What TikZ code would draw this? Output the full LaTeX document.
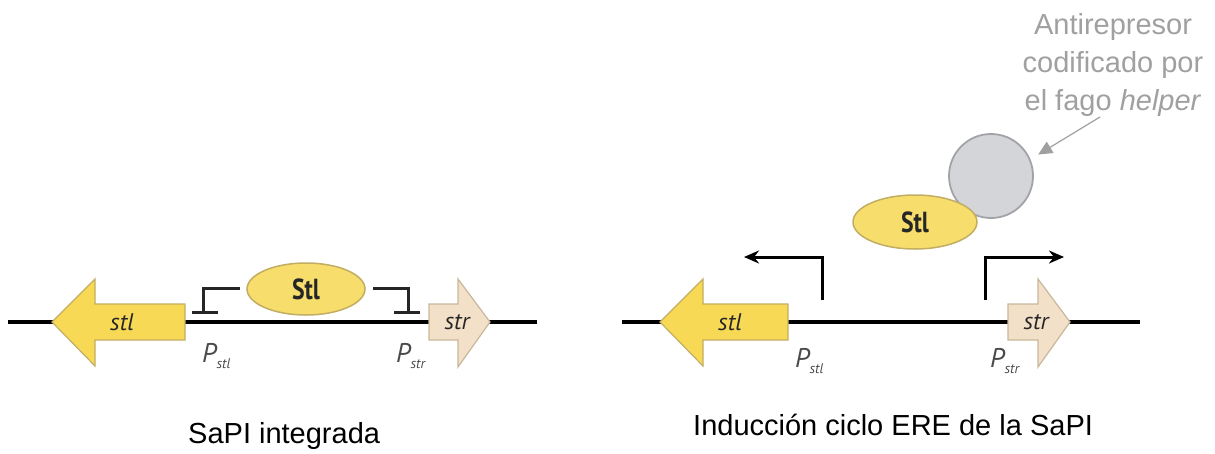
\documentclass[tikz,border=0pt]{standalone}
\usepackage{fontspec}
\setmainfont{Liberation Sans}
\newfontfamily\genefont{PT Sans}
\usetikzlibrary{arrows.meta,shapes.geometric}
\definecolor{yelfill}{HTML}{F7D955}
\definecolor{yeldraw}{HTML}{C2AE62}
\definecolor{ellfill}{HTML}{F6DD6C}
\definecolor{strfill}{HTML}{F3E0C8}
\definecolor{strdraw}{HTML}{C9B79B}
\definecolor{circfill}{HTML}{D4D5D9}
\definecolor{circdraw}{HTML}{A2A3A7}
\definecolor{annot}{HTML}{A0A0A0}
\definecolor{plab}{HTML}{4A4A4A}
\tikzset{
  x=1pt, y=-1pt,
  dna/.style={line width=4.5pt, black},
  genestl/.style={fill=yelfill, draw=yeldraw, line width=1.2pt},
  genestr/.style={fill=strfill, draw=strdraw, line width=1.2pt},
  prot/.style={ellipse, fill=ellfill, draw=yeldraw, line width=1.5pt, inner sep=0pt, font=\genefont\bfseries\fontsize{29}{29}\selectfont, text=black!85},
  protA/.style={prot, minimum width=118pt, minimum height=52pt},
  protB/.style={prot, minimum width=124pt, minimum height=54pt},
  genelab/.style={font=\genefont\itshape\fontsize{24}{24}\selectfont, text=black!85},
  plabel/.style={font=\genefont\itshape\fontsize{27}{27}\selectfont, text=plab, inner sep=0pt, anchor=base west},
  repr/.style={line width=3pt, black!85},
  prom/.style={line width=3pt, black, -{Stealth[length=15pt,width=13pt]}},
  caption/.style={font=\fontsize{29}{29}\selectfont, text=black, inner sep=0pt, anchor=base west},
  antitext/.style={font=\fontsize{29}{38}\selectfont, text=annot, align=center, inner sep=0pt, anchor=north},
}
\newcommand{\plsub}[1]{\raisebox{-6pt}{\fontsize{14}{14}\selectfont #1}}
\newcommand{\sqz}[1]{\scalebox{0.82}[1]{#1}}
\begin{document}
\begin{tikzpicture}
\useasboundingbox (0,0) rectangle (1215,453);
% ---------- left panel ----------
\coordinate (L1) at (8,322);
\coordinate (L2) at (537,322);
\draw[dna] (L1) -- (L2);
\draw[genestl] (52,322) -- (95,279) -- (95,304) -- (185,304) -- (185,340) -- (95,340) -- (95,366) -- cycle;
\node[genelab] (stlA) at (122,322) {stl};
\draw[genestr] (429,304) -- (458,304) -- (458,279) -- (490,322) -- (458,367) -- (458,340) -- (429,340) -- cycle;
\node[genelab] (strA) at (457,322) {str};
\node[protA] (StlA) at (306,289) {\sqz{Stl}};
\coordinate (tl0) at (240,288);
\coordinate (tl1) at (203,288);
\coordinate (tl2) at (203,312);
\coordinate (tla) at (192,312);
\coordinate (tlb) at (218,312);
\coordinate (tr0) at (373,288);
\coordinate (tr1) at (408,288);
\coordinate (tr2) at (408,312);
\coordinate (tra) at (394,312);
\coordinate (trb) at (420,312);
\draw[repr] (tl0) -- (tl1) -- (tl2);
\draw[repr] (tla) -- (tlb);
\draw[repr] (tr0) -- (tr1) -- (tr2);
\draw[repr] (tra) -- (trb);
\node[plabel] (PstlA) at (202,362) {P\plsub{stl}};
\node[plabel] (PstrA) at (396,362) {P\plsub{str}};
\node[caption] (capA) at (188,443) {SaPI integrada};
% ---------- right panel ----------
\coordinate (R1) at (622,322);
\coordinate (R2) at (1140,322);
\draw[dna] (R1) -- (R2);
\draw[genestl] (660,322) -- (703,279) -- (703,304) -- (788,304) -- (788,340) -- (703,340) -- (703,366) -- cycle;
\node[genelab] (stlB) at (730,322) {stl};
\draw[genestr] (1008,304) -- (1038,304) -- (1038,279) -- (1070,322) -- (1038,367) -- (1038,340) -- (1008,340) -- cycle;
\node[genelab] (strB) at (1036,322) {str};
\node[circle, fill=circfill, draw=circdraw, line width=1.8pt, minimum size=84pt, inner sep=0pt] (anti) at (991,176) {};
\node[protB] (StlB) at (915,222) {\sqz{Stl}};
\coordinate (pl0) at (822,300);
\coordinate (pl1) at (822,257);
\coordinate (pl2) at (744,257);
\coordinate (pr0) at (985,300);
\coordinate (pr1) at (985,257);
\coordinate (pr2) at (1064,257);
\draw[prom] (pl0) -- (pl1) -- (pl2);
\draw[prom] (pr0) -- (pr1) -- (pr2);
\node[plabel] (PstlB) at (795,367) {P\plsub{stl}};
\node[plabel] (PstrB) at (990,367) {P\plsub{str}};
\node[caption] (capB) at (693,435) {Inducción ciclo ERE de la SaPI};
\node[antitext] (atext) at (1113,13.5) {Antirepresor\\codificado por\\el fago \textit{helper}};
\coordinate (aend) at (1100,117);
\draw[annot, line width=1.2pt, shorten >=9pt, -{Triangle[length=14pt,width=13pt]}] (aend) -- (anti.23);
\end{tikzpicture}
\end{document}
